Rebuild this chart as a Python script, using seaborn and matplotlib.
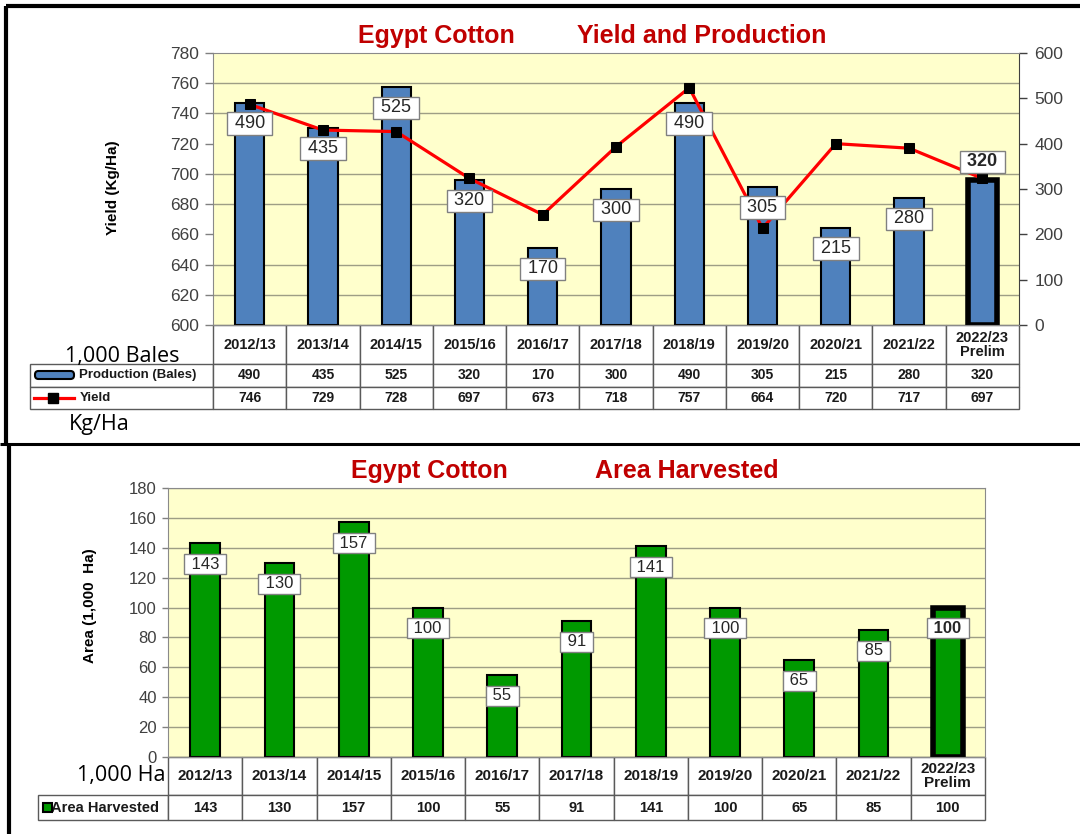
import matplotlib
matplotlib.use("Agg")
import matplotlib.pyplot as plt
import numpy as np
import pandas as pd
import seaborn as sns
from matplotlib.lines import Line2D
from matplotlib.patches import FancyBboxPatch, Rectangle

# marketing years shared by both panels
years = ["2012/13", "2013/14", "2014/15", "2015/16", "2016/17", "2017/18",
         "2018/19", "2019/20", "2020/21", "2021/22", "2022/23\nPrelim"]
production = [490, 435, 525, 320, 170, 300, 490, 305, 215, 280, 320]  # 1,000 bales
yields = [746, 729, 728, 697, 673, 718, 757, 664, 720, 717, 697]       # kg/ha
area = [143, 130, 157, 100, 55, 91, 141, 100, 65, 85, 100]             # 1,000 ha

W, H = 1080, 834
TITLE_RED = "#C00000"
BLUE = "#4F81BD"
GREEN = "#009900"
PLOT_BG = "#FFFFCC"
GRID = "#9E9E85"
TICK_GREY = "#404040"

plt.rcParams["font.family"] = ["Liberation Sans", "DejaVu Sans"]

fig = plt.figure(figsize=(W / 100, H / 100), dpi=100)


def fx(px):
    return px / W


def fy(py):
    return 1 - py / H


def inch(px, py):
    # pixel position (from top-left) -> inches for fig.dpi_scale_trans
    return px / 100, (H - py) / 100


def axes_px(left, top, right, bottom):
    return fig.add_axes([fx(left), fy(bottom), (right - left) / W, (bottom - top) / H])


def style_table(tab, header_scale, label_pad, label_size, header_size, data_size):
    tab.auto_set_font_size(False)
    for (r, c), cell in tab.get_celld().items():
        cell.set_edgecolor("#5a5a5a")
        cell.set_linewidth(1)
        txt = cell.get_text()
        txt.set_fontweight("bold")
        txt.set_color("#1a1a1a")
        if r == 0:
            cell.set_height(cell.get_height() * header_scale)
            txt.set_fontsize(header_size)
            txt.set_linespacing(1.0)
        else:
            txt.set_fontsize(data_size)
        if c == 0:
            if r == 0:
                cell.set_edgecolor("none")
                cell.set_facecolor("none")
            cell.PAD = label_pad
            txt.set_horizontalalignment("left")
            txt.set_fontsize(label_size)


def bar_labels(host, data_ax, values, size, down=-15, up=13):
    for i, v in enumerate(values):
        last = i == len(values) - 1
        host.annotate(f" {v} ", xy=(i, v), xycoords=data_ax.transData,
                      xytext=(0, up if (last and host is not data_ax) else down),
                      textcoords="offset points", ha="center", va="center",
                      fontsize=size, fontweight="bold" if last else "normal",
                      color="#262626", zorder=5, annotation_clip=False,
                      bbox=dict(boxstyle="square,pad=0.15", fc="white", ec="#808080", lw=1))


# ---------------- top panel: yield and production ----------------
L1, T1, R1, B1 = 213, 53, 1019, 325
ax = axes_px(L1, T1, R1, B1)
ax.set_facecolor(PLOT_BG)
top_df = pd.DataFrame({"year": years, "production": production})
sns.barplot(data=top_df, x="year", y="production", color=BLUE, saturation=1,
            width=0.4, edgecolor="black", linewidth=1.5, ax=ax, zorder=2)
ax.patches[-1].set_linewidth(4)

ax2 = ax.twinx()
sns.lineplot(x=np.arange(len(years)), y=yields, ax=ax2, color="#FF0000", lw=2.3,
             marker="s", markersize=7, markerfacecolor="black",
             markeredgecolor="black", zorder=3)

ax.set_ylim(0, 600)
ax.set_xlim(-0.5, len(years) - 0.5)
ax2.set_xlim(-0.5, len(years) - 0.5)
ax.set_yticks(range(0, 601, 100))
ax.set_yticks(np.linspace(0, 600, 10), minor=True)
ax.yaxis.tick_right()
ax.tick_params(axis="y", which="major", right=True, left=False, length=6, width=1,
               color=TICK_GREY, labelsize=12.5, labelcolor=TICK_GREY, pad=5)
ax.tick_params(axis="y", which="minor", length=0)
ax.grid(which="minor", axis="y", color=GRID, lw=1)
ax.grid(which="major", visible=False)
ax.set_axisbelow(True)
ax.set_xticks([])
ax.set_xlabel("")
ax.yaxis.set_label_position("right")
ax.set_ylabel("Production (1,000 480lb-Bales)", fontsize=11, fontweight="bold")
ax.yaxis.set_label_coords(1.079, 0.45)

ax2.set_ylim(600, 780)
ax2.set_yticks(range(600, 781, 20))
ax2.yaxis.tick_left()
ax2.yaxis.set_label_position("left")
ax2.tick_params(axis="y", left=True, right=False, length=6, width=1, color="#808080",
                labelsize=12.5, labelcolor=TICK_GREY, pad=4)
ax2.set_ylabel("Yield (Kg/Ha)", fontsize=11, fontweight="bold")
ax2.yaxis.set_label_coords(-0.115, 0.504)

for s in ax.spines.values():
    s.set_color("#8a8a8a")
ax.spines["right"].set_color(TICK_GREY)
for s in ax2.spines.values():
    s.set_visible(False)

bar_labels(ax2, ax, production, 13)

w1 = R1 - L1
h1 = B1 - T1
TB1 = 409
tab1 = ax.table(cellText=[["Production (Bales)"] + [f"{v}" for v in production],
                          ["Yield"] + [f"{v}" for v in yields]],
                colLabels=[""] + years,
                colWidths=[(L1 - 30) / (w1 / len(years))] + [1.0] * len(years),
                cellLoc="center",
                bbox=[(30 - L1) / w1, -(TB1 - B1) / h1, (R1 - 30) / w1, (TB1 - B1) / h1])
style_table(tab1, 39 / 22.5, 0.27, 9.5, 10.5, 10)

# legend keys inside the table
px, py = inch(35, 379)
fig.add_artist(FancyBboxPatch((px, py), 0.39, 0.08,
                              boxstyle="round,pad=0,rounding_size=0.035",
                              fc=BLUE, ec="black", lw=1.5, transform=fig.dpi_scale_trans))
xs = [inch(34, 398)[0], inch(53, 398)[0], inch(74, 398)[0]]
yv = inch(0, 398)[1]
fig.add_artist(Line2D(xs, [yv] * 3, color="#FF0000", lw=2.3, marker="s", markersize=7,
                      markerfacecolor="black", markeredgecolor="black", markevery=[1],
                      transform=fig.dpi_scale_trans))

fig.text(fx(65), fy(362), "1,000 Bales", family="Open Sans", fontsize=15.5, va="baseline")
fig.text(fx(69), fy(430), "Kg/Ha", family="Open Sans", fontsize=15.5, va="baseline")
fig.text(fx(436), fy(43), "Egypt Cotton", ha="center", va="baseline", fontsize=18,
         fontweight="bold", color=TITLE_RED)
fig.text(fx(702), fy(43), "Yield and Production", ha="center", va="baseline",
         fontsize=18, fontweight="bold", color=TITLE_RED)

# ---------------- bottom panel: area harvested ----------------
L2, T2, R2, B2 = 168, 488, 985, 757
bx = axes_px(L2, T2, R2, B2)
bx.set_facecolor(PLOT_BG)
area_df = pd.DataFrame({"year": years, "area": area})
sns.barplot(data=area_df, x="year", y="area", color=GREEN, saturation=1,
            width=0.4, edgecolor="black", linewidth=1.5, ax=bx, zorder=2)
bx.patches[-1].set_linewidth(4)
bx.set_ylim(0, 180)
bx.set_xlim(-0.5, len(years) - 0.5)
bx.set_yticks(range(0, 181, 20))
bx.set_xticks([])
bx.set_xlabel("")
bx.grid(axis="y", color=GRID, lw=1)
bx.set_axisbelow(True)
bx.tick_params(axis="y", left=True, length=4, width=1, color="#808080",
               labelsize=12, labelcolor=TICK_GREY, pad=4)
bx.set_ylabel("Area (1,000  Ha)", fontsize=11, fontweight="bold")
bx.yaxis.set_label_coords(-0.087, 0.561)
for s in bx.spines.values():
    s.set_color("#8a8a8a")

bar_labels(bx, bx, area, 12)

w2 = R2 - L2
h2 = B2 - T2
TB2 = 820
tab2 = bx.table(cellText=[["Area Harvested"] + [f"{v}" for v in area]],
                colLabels=[""] + years,
                colWidths=[(L2 - 38) / (w2 / len(years))] + [1.0] * len(years),
                cellLoc="center",
                bbox=[(38 - L2) / w2, -(TB2 - B2) / h2, (R2 - 38) / w2, (TB2 - B2) / h2])
style_table(tab2, 38 / 25, 0.1, 10.5, 11, 10.5)

sx, sy = inch(43, 812)
fig.add_artist(Rectangle((sx, sy), 0.09, 0.09, fc=GREEN, ec="black", lw=1.5,
                         transform=fig.dpi_scale_trans))

fig.text(fx(77), fy(781), "1,000 Ha", family="Open Sans", fontsize=15.5, va="baseline")
fig.text(fx(429), fy(478), "Egypt Cotton", ha="center", va="baseline", fontsize=18,
         fontweight="bold", color=TITLE_RED)
fig.text(fx(687), fy(478), "Area Harvested", ha="center", va="baseline", fontsize=18,
         fontweight="bold", color=TITLE_RED)

# panel frames
for xs_, ys_, lw in [((6, 1080), (6, 6), 3), ((6, 6), (6, 443), 3),
                     ((0, 1080), (443.5, 443.5), 2.2), ((9, 9), (443, 834), 3)]:
    fig.add_artist(Line2D([fx(v) for v in xs_], [fy(v) for v in ys_], color="black",
                          lw=lw, solid_capstyle="butt", transform=fig.transFigure))

fig.savefig("out.png", dpi=100, facecolor="white")
